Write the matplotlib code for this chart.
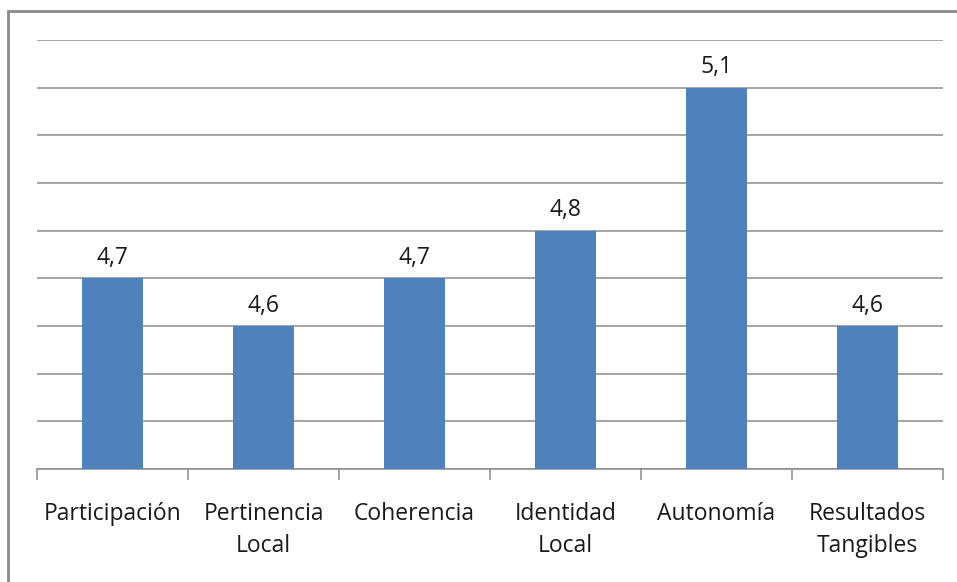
import matplotlib.pyplot as plt
import numpy as np
from matplotlib.patches import Rectangle

# category names and mean scores
categories = ['Participación', 'Pertinencia\nLocal', 'Coherencia',
              'Identidad\nLocal', 'Autonomía', 'Resultados\nTangibles']
scores = [4.7, 4.6, 4.7, 4.8, 5.1, 4.6]
value_labels = ['4,7', '4,6', '4,7', '4,8', '5,1', '4,6']

plt.rcParams['font.family'] = ['Open Sans', 'DejaVu Sans']

fig = plt.figure(figsize=(9.57, 5.82), dpi=100)
ax = fig.add_axes([0.0387, 0.1942, 0.9467, 0.7371])

x = np.arange(len(categories))
ax.bar(x, scores, width=0.4, color='#4f81bd', zorder=3)

ax.set_xlim(-0.5, len(categories) - 0.5)
ax.set_ylim(4.3, 5.2)
ax.set_yticks(np.arange(4.3, 5.21, 0.1))
ax.yaxis.grid(True, color='#8c8c8c', linewidth=1.1, zorder=0)
ax.tick_params(axis='y', left=False, labelleft=False)

# boundary ticks between categories, labels centred on bars
ax.set_xticks(np.arange(-0.5, len(categories), 1.0))
ax.tick_params(axis='x', which='major', direction='out', length=8,
               color='#8c8c8c', width=1.1, labelbottom=False)
ax.set_xticks(x, minor=True)
ax.set_xticklabels(categories, minor=True, fontsize=16.5, color='#1a1a1a',
                   linespacing=1.45)
ax.tick_params(axis='x', which='minor', length=0, pad=24)

for s in ['top', 'right', 'left']:
    ax.spines[s].set_visible(False)
ax.spines['bottom'].set_color('#8c8c8c')
ax.spines['bottom'].set_linewidth(1.1)

for xi, v, lab in zip(x, scores, value_labels):
    ax.annotate(lab, (xi, v), xytext=(0, 6), textcoords='offset points',
                ha='center', va='bottom', fontsize=16.5, color='#1a1a1a')

# outer chart border
fig.patches.append(Rectangle((8 / 957, -0.05), 1.0, 1.05 - 11 / 582,
                             transform=fig.transFigure, fill=False,
                             edgecolor='#8a8a8a', linewidth=2))

fig.savefig('out.png', dpi=100, facecolor='white')
